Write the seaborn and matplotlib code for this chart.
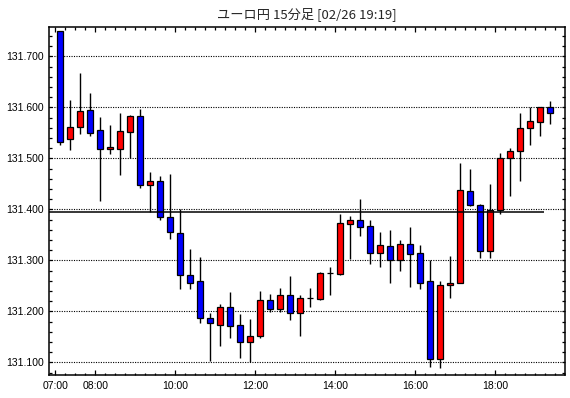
import matplotlib
matplotlib.use("Agg")
import matplotlib.pyplot as plt
import seaborn as sns
import numpy as np
import pandas as pd
from matplotlib.ticker import FixedLocator, MultipleLocator, FormatStrFormatter

# ---------------- data ----------------
times = pd.date_range("2024-02-26 07:00", periods=50, freq="15min")

opens = [131.749, 131.537, 131.561, 131.594, 131.555, 131.518, 131.519, 131.552, 131.583, 131.447,
         131.455, 131.384, 131.353, 131.271, 131.259, 131.186, 131.174, 131.209, 131.173, 131.139,
         131.151, 131.222, 131.205, 131.233, 131.196, 131.2255, 131.225, 131.2745, 131.274, 131.372,
         131.380, 131.367, 131.315, 131.329, 131.301, 131.333, 131.314, 131.259, 131.106, 131.251,
         131.255, 131.435, 131.408, 131.319, 131.398, 131.500, 131.514, 131.559, 131.5706, 131.600]
closes = [131.533, 131.561, 131.592, 131.549, 131.518, 131.522, 131.553, 131.583, 131.447, 131.456,
          131.384, 131.355, 131.271, 131.256, 131.186, 131.178, 131.209, 131.172, 131.139, 131.151,
          131.222, 131.205, 131.233, 131.196, 131.2255, 131.2255, 131.2745, 131.2745, 131.3725, 131.380,
          131.366, 131.315, 131.331, 131.301, 131.333, 131.313, 131.256, 131.106, 131.251, 131.255,
          131.437, 131.408, 131.319, 131.398, 131.500, 131.514, 131.559, 131.5725, 131.600, 131.588]
highs = [131.750, 131.614, 131.667, 131.628, 131.581, 131.565, 131.589, 131.585, 131.597, 131.473,
         131.465, 131.469, 131.401, 131.322, 131.3065, 131.196, 131.214, 131.238, 131.195, 131.185,
         131.240, 131.234, 131.246, 131.270, 131.232, 131.246, 131.278, 131.287, 131.391, 131.387,
         131.420, 131.379, 131.3556, 131.3595, 131.340, 131.365, 131.330, 131.300, 131.259, 131.3085,
         131.491, 131.479, 131.410, 131.4497, 131.5105, 131.5196, 131.589, 131.600, 131.600, 131.612]
lows = [131.527, 131.517, 131.548, 131.544, 131.417, 131.509, 131.468, 131.500, 131.441, 131.394,
        131.380, 131.341, 131.244, 131.244, 131.178, 131.103, 131.133, 131.148, 131.108, 131.100,
        131.148, 131.198, 131.198, 131.184, 131.152, 131.209, 131.222, 131.233, 131.271, 131.303,
        131.348, 131.293, 131.286, 131.256, 131.280, 131.248, 131.2444, 131.090, 131.088, 131.227,
        131.255, 131.406, 131.305, 131.305, 131.3915, 131.4268, 131.4562, 131.527, 131.5444, 131.5667]

hour_labels = ["07:00", "08:00", "10:00", "12:00", "14:00", "16:00", "18:00"]
ref_level = 131.394
title = "ユーロ円 15分足 [02/26 19:19]"

df = pd.DataFrame({"time": times, "open": opens, "high": highs, "low": lows, "close": closes})
df["idx"] = np.arange(len(df))
df["bottom"] = df[["open", "close"]].min(axis=1)
df["height"] = (df["close"] - df["open"]).abs()
df["color"] = np.where(df["close"] >= df["open"], "#ff0000", "#0000ff")
df["label"] = df["time"].dt.strftime("%H:%M")

# ---------------- figure ----------------
sns.set_style("white")
plt.rcParams["font.family"] = ["Liberation Sans", "DejaVu Sans"]

W, H = 570, 398
fig = plt.figure(figsize=(W / 100, H / 100), dpi=100)
left_px, right_px, top_px, bot_px = 48.5, 565.3, 27, 375
ax = fig.add_axes([left_px / W, 1 - bot_px / H, (right_px - left_px) / W, (bot_px - top_px) / H])

# wicks
ax.vlines(df["idx"], df["low"], df["high"], color="black", lw=1.0, zorder=2)
# bodies
ax.bar(df["idx"], df["height"], bottom=df["bottom"], width=0.62, color=df["color"],
       edgecolor="black", linewidth=0.9, zorder=3)

# reference line
ax.hlines(ref_level, -1.2, 48.4, color="black", lw=1.1, zorder=4)

ax.set_xlim(-1.18, 50.5)
ax.set_ylim(131.0752, 131.7575)

# y axis
ax.yaxis.set_major_locator(FixedLocator([131.1, 131.2, 131.3, 131.4, 131.5, 131.6, 131.7]))
ax.yaxis.set_minor_locator(MultipleLocator(0.02))
ax.yaxis.set_major_formatter(FormatStrFormatter("%.3f"))
ax.grid(False)
for v in [131.1, 131.2, 131.3, 131.4, 131.5, 131.6, 131.7]:
    ax.axhline(v, color="black", lw=0.8, linestyle=(0, (1, 1.2)), zorder=1)

# x axis
pos = {lab: i for i, lab in enumerate(df["label"])}
major_x = [pos[h] - 0.5 for h in hour_labels]
ax.xaxis.set_major_locator(FixedLocator(major_x))
ax.set_xticklabels(hour_labels)
ax.xaxis.set_minor_locator(FixedLocator(list(df["idx"] - 0.5) + [49.5]))

ax.tick_params(axis="both", which="both", direction="in", colors="black",
               top=True, right=True, bottom=True, left=True)
ax.tick_params(axis="x", which="major", length=3.6, width=0.9, pad=4.5, labelsize=7.5)
ax.tick_params(axis="x", which="minor", length=1.8, width=0.9)
ax.tick_params(axis="y", which="major", length=2.0, width=0.9, pad=3.5, labelsize=7.5)
ax.tick_params(axis="y", which="minor", length=2.0, width=0.9)

for s in ax.spines.values():
    s.set_color("black")
    s.set_linewidth(1.1)
    s.set_visible(True)

fig.text((left_px + right_px) / 2 / W, 1 - 14.5 / H, title, ha="center", va="center",
         fontsize=9.5, family=["Noto Sans CJK JP", "DejaVu Sans"])

fig.savefig("out.png", dpi=100, facecolor="white")
